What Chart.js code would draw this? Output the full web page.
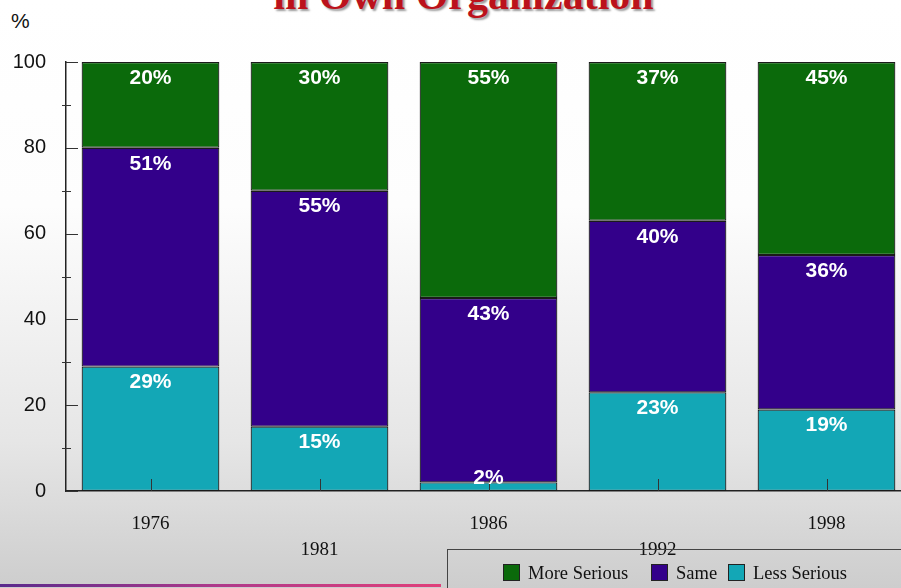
<!DOCTYPE html>
<html>
<head>
<meta charset="utf-8">
<script src="https://cdn.jsdelivr.net/npm/chart.js@4/dist/chart.umd.min.js"></script>
<style>
  html, body { margin: 0; padding: 0; width: 901px; height: 588px; overflow: hidden; }
  body {
    position: relative;
    background: linear-gradient(to bottom, #ffffff 0%, #fdfdfd 35%, #e6e6e6 75%, #cdcdcd 100%);
    font-family: "Liberation Sans", Arial, sans-serif;
  }
  #chart { position: absolute; left: 0; top: 0; }
  .title {
    position: absolute; left: 13px; width: 901px; top: -29px; height: 42px; line-height: 42px;
    text-align: center; font: bold 42px "Liberation Serif", "Times New Roman", serif;
    color: #bb121b; text-shadow: 2px 2px 2px #9a9a9a;
  }
  .unit { position: absolute; left: 11px; top: 9px; font-size: 21px; color: #111; }
  .legend {
    position: absolute; left: 447px; top: 549px; width: 470px; height: 60px;
    border: 1.5px solid #444; box-sizing: border-box;
  }
  .legend span.item {
    position: absolute; top: 13px; font: 18.5px "Liberation Serif", serif; color: #111;
    line-height: 20px; white-space: nowrap;
  }
  .legend i {
    display: inline-block; width: 15px; height: 15px; border: 1.5px solid #222;
    vertical-align: -2px; margin-right: 8px;
  }
  .bottomline {
    position: absolute; left: 0; top: 584px; width: 441px; height: 3px;
    background: linear-gradient(to right, #5a2a8c, #b03a8a, #e0407a);
  }
</style>
</head>
<body>
<div class="title">in Own Organization</div>
<div class="unit">%</div>
<canvas id="chart" width="911" height="588"></canvas>
<div class="legend" id="legend"></div>
<div class="bottomline"></div>
<script>
const years = ['1976', '1981', '1986', '1992', '1998'];
const lessSerious = [29, 15, 2, 23, 19];
const same = [51, 55, 43, 40, 36];
const moreSerious = [20, 30, 55, 37, 45];
const yTicks = [0, 20, 40, 60, 80, 100];

const seriesNames = ['Less Serious', 'Same', 'More Serious'];
const seriesColors = ['#13a7b6', '#33008a', '#0b6a0b'];

// staggered labels: odd ones on the second line
const xLabels = years.map((y, i) => (i % 2 === 1 ? ['', y] : [y]));

const segmentLabels = {
  id: 'segmentLabels',
  afterDatasetsDraw(chart) {
    const { ctx, chartArea } = chart;
    ctx.save();
    // small x ticks rising from the baseline at each bar centre
    const meta0 = chart.getDatasetMeta(0);
    ctx.strokeStyle = '#333';
    ctx.lineWidth = 1;
    meta0.data.forEach(bar => {
      const x = Math.round(bar.x) + 0.5;
      ctx.beginPath();
      ctx.moveTo(x, chartArea.bottom);
      ctx.lineTo(x, chartArea.bottom - 12);
      ctx.stroke();
    });
    // y ticks (major inward, minor straddling the axis)
    const yScale = chart.scales.y;
    for (let v = 0; v <= 100; v += 10) {
      const y = Math.round(yScale.getPixelForValue(v)) + 0.5;
      ctx.beginPath();
      if (v % 20 === 0) { ctx.moveTo(chartArea.left, y); ctx.lineTo(chartArea.left + 12, y); }
      else { ctx.moveTo(chartArea.left - 4, y); ctx.lineTo(chartArea.left + 5, y); }
      ctx.stroke();
    }
    ctx.fillStyle = '#ffffff';
    ctx.font = 'bold 21px "Liberation Sans", Arial, sans-serif';
    ctx.textAlign = 'center';
    ctx.textBaseline = 'middle';
    chart.data.datasets.forEach((ds, di) => {
      chart.getDatasetMeta(di).data.forEach((bar, i) => {
        const y = Math.min(bar.y + 16, chartArea.bottom - 13);
        ctx.fillText(ds.data[i] + '%', bar.x, y);
      });
    });
    ctx.restore();
  }
};

new Chart(document.getElementById('chart'), {
  type: 'bar',
  data: {
    labels: xLabels,
    datasets: [
      { label: seriesNames[0], data: lessSerious, backgroundColor: seriesColors[0] },
      { label: seriesNames[1], data: same, backgroundColor: seriesColors[1] },
      { label: seriesNames[2], data: moreSerious, backgroundColor: seriesColors[2] },
    ].map(d => ({ ...d, borderColor: '#1a1a1a', borderWidth: 1.2, borderSkipped: false,
                  barPercentage: 0.815, categoryPercentage: 1 })),
  },
  options: {
    responsive: false,
    animation: false,
    layout: { padding: { top: 62, left: 0, right: 0, bottom: 0 } },
    plugins: { legend: { display: false }, tooltip: { enabled: false }, title: { display: false } },
    scales: {
      x: {
        stacked: true,
        grid: { display: false },
        border: { display: true, color: '#222', width: 1.5 },
        ticks: {
          color: '#111', padding: 12, maxRotation: 0, autoSkip: false,
          font: { family: '"Liberation Serif", serif', size: 19, lineHeight: '26px' },
        },
        afterFit: s => { s.height = 97; },
      },
      y: {
        stacked: true, min: 0, max: 100,
        grid: { display: false },
        border: { display: true, color: '#222', width: 1.5 },
        afterBuildTicks: s => { s.ticks = yTicks.map(v => ({ value: v })); },
        ticks: {
          color: '#111', padding: 12,
          font: { family: '"Liberation Sans", Arial, sans-serif', size: 20 },
        },
        afterFit: s => { s.width = 66; },
      },
    },
  },
  plugins: [segmentLabels],
});

// legend in the same order as the original (top series first)
const legendPos = [502, 650, 727];
const legend = document.getElementById('legend');
[2, 1, 0].forEach((si, k) => {
  const item = document.createElement('span');
  item.className = 'item';
  item.style.left = (legendPos[k] - 447) + 'px';
  item.innerHTML = '<i style="background:' + seriesColors[si] + '"></i>' + seriesNames[si];
  legend.appendChild(item);
});
</script>
</body>
</html>
